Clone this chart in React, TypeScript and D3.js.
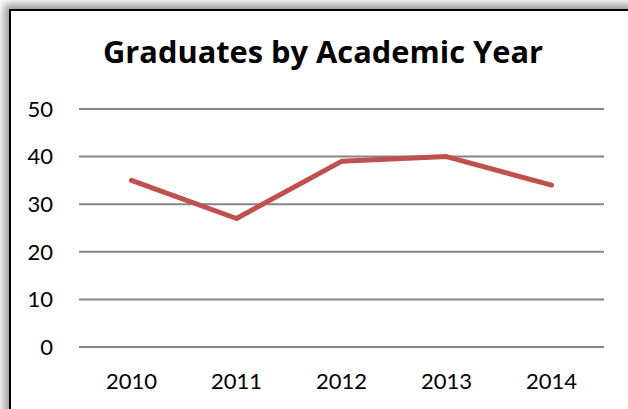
import React from "react";
import * as d3 from "d3";

const years = ["2010", "2011", "2012", "2013", "2014"];
const graduates = [35, 27, 39, 40, 34];
const yTicks = [0, 10, 20, 30, 40, 50];
const title = "Graduates by Academic Year";

const W = 628;
const H = 409;

export default function App() {
  const x = d3.scaleBand<string>().domain(years).range([79, 604]);
  const y = d3.scaleLinear().domain([0, 50]).range([347, 109]);
  const line = d3
    .line<number>()
    .x((_, i) => (x(years[i]) as number) + x.bandwidth() / 2)
    .y((d) => y(d));

  return (
    <svg
      width={W}
      height={H}
      style={{ position: "absolute", left: 0, top: 0, display: "block" }}
      fontFamily="Lato, 'Open Sans', sans-serif"
    >
      <defs>
        <filter id="sh" x="-10%" y="-10%" width="120%" height="120%">
          <feGaussianBlur stdDeviation="4" />
        </filter>
      </defs>
      <rect x={0} y={0} width={W} height={H} fill="#ffffff" />
      <rect x={4} y={4} width={800} height={600} fill="#9a9a9a" filter="url(#sh)" />
      <rect x={10} y={10} width={800} height={600} fill="#ffffff" stroke="#000000" strokeWidth={2} />
      <text
        x={323}
        y={63}
        textAnchor="middle"
        fontSize={29.5}
        fontWeight="bold"
        fontFamily="'Open Sans', sans-serif"
        textLength={440}
        lengthAdjust="spacingAndGlyphs"
        fill="#000000"
      >
        {title}
      </text>
      {yTicks.map((t) => (
        <g key={t}>
          <line x1={79} x2={604} y1={y(t)} y2={y(t)} stroke="#868686" strokeWidth={2} />
          <text x={53} y={y(t)} dy="0.35em" textAnchor="end" fontSize={22} fill="#000000">
            {t}
          </text>
        </g>
      ))}
      {years.map((yr) => (
        <text
          key={yr}
          x={(x(yr) as number) + x.bandwidth() / 2}
          y={389}
          textAnchor="middle"
          fontSize={22}
          fill="#000000"
        >
          {yr}
        </text>
      ))}
      <path
        d={line(graduates) || ""}
        fill="none"
        stroke="#C0504D"
        strokeWidth={5}
        strokeLinejoin="round"
        strokeLinecap="round"
      />
    </svg>
  );
}
